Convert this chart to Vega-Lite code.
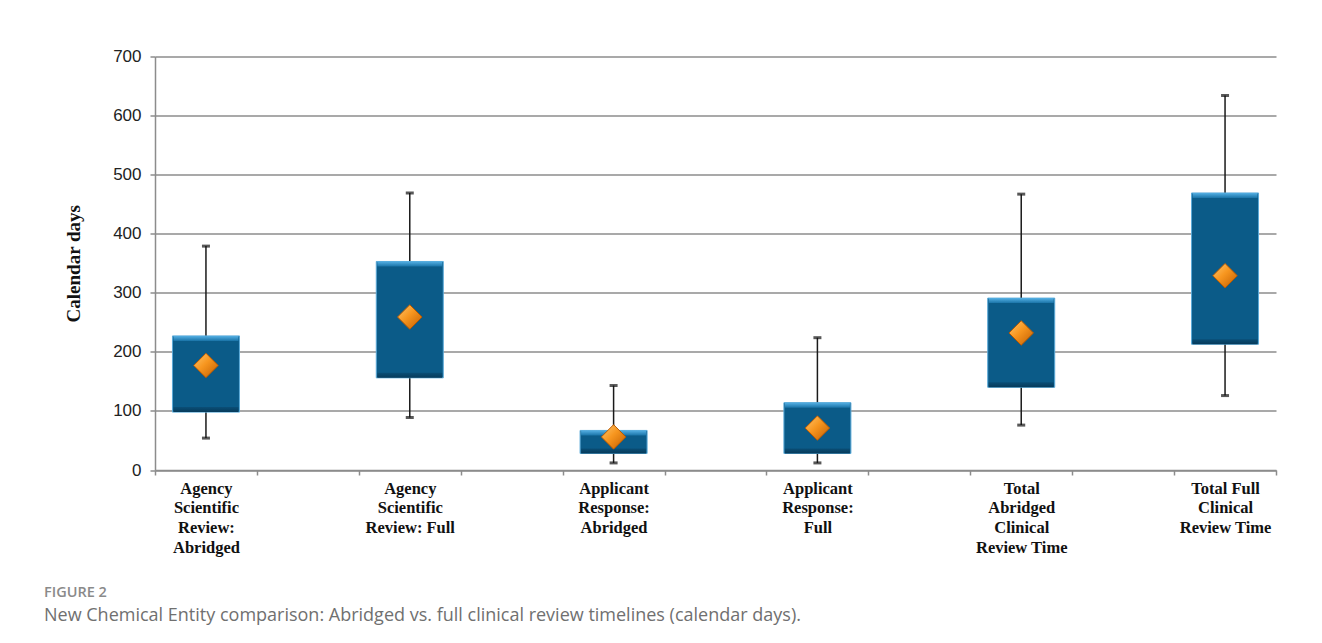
{
  "$schema": "https://vega.github.io/schema/vega-lite/v6.json",
  "width": 1121,
  "height": 413.5,
  "autosize": "none",
  "padding": {"left": 155, "top": 56.5, "right": 46, "bottom": 173},
  "background": "white",
  "config": {"view": {"stroke": null}},
  "title": {
    "text": "FIGURE 2",
    "subtitle": "New Chemical Entity comparison: Abridged vs. full clinical review timelines (calendar days).",
    "orient": "bottom",
    "anchor": "start",
    "frame": "group",
    "dx": -111,
    "offset": 30,
    "font": "Open Sans",
    "fontSize": 14.5,
    "fontWeight": 600,
    "color": "#8a8a8a",
    "subtitleFont": "Open Sans",
    "subtitleFontSize": 18,
    "subtitleColor": "#707070",
    "subtitlePadding": 7
  },
  "data": {
    "values": [
      {"category": "Agency Scientific Review: Abridged", "min": 54, "q1": 98, "mean": 177, "q3": 227, "max": 379},
      {"category": "Agency Scientific Review: Full", "min": 89, "q1": 156, "mean": 259, "q3": 353, "max": 469},
      {"category": "Applicant Response: Abridged", "min": 12, "q1": 28, "mean": 56, "q3": 67, "max": 143},
      {"category": "Applicant Response: Full", "min": 12, "q1": 28, "mean": 71, "q3": 114, "max": 224},
      {"category": "Total Abridged Clinical Review Time", "min": 76, "q1": 140, "mean": 232, "q3": 291, "max": 467},
      {"category": "Total Full Clinical Review Time", "min": 126, "q1": 213, "mean": 329, "q3": 469, "max": 634}
    ]
  },
  "resolve": {"axis": {"x": "independent"}},
  "layer": [
    {
      "mark": {"type": "rule", "color": "#1a1a1a", "strokeWidth": 1.5},
      "encoding": {
        "x": {
          "field": "category", "type": "nominal", "sort": null,
          "scale": {"type": "point", "padding": 0.25},
          "axis": {
            "orient": "bottom",
            "title": null,
            "ticks": false,
            "domainColor": "#8c8c8c",
            "domainWidth": 1.5,
            "labelAngle": 0,
            "labelLimit": 0,
            "labelFont": "Liberation Serif",
            "labelFontWeight": "bold",
            "labelFontSize": 16.5,
            "labelColor": "#111",
            "labelLineHeight": 19.7,
            "labelBaseline": "top",
            "labelPadding": 10,
            "labelExpr": "datum.value === 'Agency Scientific Review: Abridged' ? ['Agency','Scientific','Review:','Abridged'] : datum.value === 'Agency Scientific Review: Full' ? ['Agency','Scientific','Review: Full'] : datum.value === 'Applicant Response: Abridged' ? ['Applicant','Response:','Abridged'] : datum.value === 'Applicant Response: Full' ? ['Applicant','Response:','Full'] : datum.value === 'Total Abridged Clinical Review Time' ? ['Total','Abridged','Clinical','Review Time'] : ['Total Full','Clinical','Review Time']"
          }
        },
        "y": {
          "field": "min", "type": "quantitative",
          "scale": {"domain": [0, 700], "nice": false},
          "axis": {
            "title": "Calendar days",
            "titleFont": "Liberation Serif",
            "titleFontSize": 19,
            "titleFontWeight": "bold",
            "titleColor": "#111",
            "titlePadding": 29,
            "values": [0, 50, 100, 150, 200, 250, 300, 350, 400, 450, 500, 550, 600, 650, 700],
            "labelExpr": "datum.value % 100 === 0 ? datum.label : ''",
            "labelFont": "Liberation Sans",
            "labelFontSize": 17,
            "labelColor": "#222",
            "labelPadding": 9,
            "tickSize": 5,
            "tickColor": "#8c8c8c",
            "tickWidth": 1.5,
            "domainColor": "#8c8c8c",
            "domainWidth": 1.5,
            "grid": true,
            "gridColor": "#8c8c8c",
            "gridWidth": 1.5,
            "gridOpacity": {"condition": {"test": "datum.value % 100 === 0", "value": 1}, "value": 0}
          }
        },
        "y2": {"field": "max"}
      }
    },
    {
      "mark": {"type": "tick", "orient": "horizontal", "color": "#111", "size": 8, "thickness": 3},
      "encoding": {
        "x": {"field": "category", "type": "nominal", "sort": null, "axis": null},
        "y": {"field": "min", "type": "quantitative"}
      }
    },
    {
      "mark": {"type": "tick", "orient": "horizontal", "color": "#111", "size": 8, "thickness": 3},
      "encoding": {
        "x": {"field": "category", "type": "nominal", "sort": null, "axis": null},
        "y": {"field": "max", "type": "quantitative"}
      }
    },
    {
      "mark": {"type": "bar", "width": 67, "fill": "#0b5b88", "stroke": "#5aaad8", "strokeWidth": 1},
      "encoding": {
        "x": {"field": "category", "type": "nominal", "sort": null, "axis": null},
        "y": {"field": "q1", "type": "quantitative"},
        "y2": {"field": "q3"}
      }
    },
    {
      "mark": {"type": "bar", "width": 65, "y2Offset": 5,
        "fill": {"gradient": "linear", "x1": 0, "y1": 0, "x2": 0, "y2": 1, "stops": [{"offset": 0, "color": "#55b0e4"}, {"offset": 1, "color": "#1a74a8"}]}},
      "encoding": {
        "x": {"field": "category", "type": "nominal", "sort": null, "axis": null},
        "y": {"field": "q3", "type": "quantitative"},
        "y2": {"field": "q3"}
      }
    },
    {
      "mark": {"type": "bar", "width": 65, "y2Offset": -5,
        "fill": {"gradient": "linear", "x1": 0, "y1": 0, "x2": 0, "y2": 1, "stops": [{"offset": 0, "color": "#0a4e76"}, {"offset": 1, "color": "#063a5a"}]}},
      "encoding": {
        "x": {"field": "category", "type": "nominal", "sort": null, "axis": null},
        "y": {"field": "q1", "type": "quantitative"},
        "y2": {"field": "q1"}
      }
    },
    {
      "mark": {"type": "point", "shape": "diamond", "size": 600, "filled": true, "opacity": 1,
        "stroke": "#b85800", "strokeWidth": 1,
        "fill": {"gradient": "linear", "x1": 0, "y1": 0, "x2": 1, "y2": 1, "stops": [{"offset": 0, "color": "#ffc870"}, {"offset": 0.45, "color": "#f7961f"}, {"offset": 1, "color": "#c05c00"}]}},
      "encoding": {
        "x": {"field": "category", "type": "nominal", "sort": null,
          "axis": {"orient": "bottom", "title": null, "labels": false, "domain": false, "grid": false, "tickOffset": -51, "tickSize": 5, "tickColor": "#8c8c8c", "tickWidth": 1.5}},
        "y": {"field": "mean", "type": "quantitative"}
      }
    },
    {
      "mark": {"type": "point", "shape": "diamond", "size": 0, "opacity": 0},
      "encoding": {
        "x": {"field": "category", "type": "nominal", "sort": null,
          "axis": {"orient": "bottom", "title": null, "labels": false, "domain": false, "grid": false, "tickOffset": 51, "tickSize": 5, "tickColor": "#8c8c8c", "tickWidth": 1.5}},
        "y": {"field": "mean", "type": "quantitative"}
      }
    }
  ]
}
